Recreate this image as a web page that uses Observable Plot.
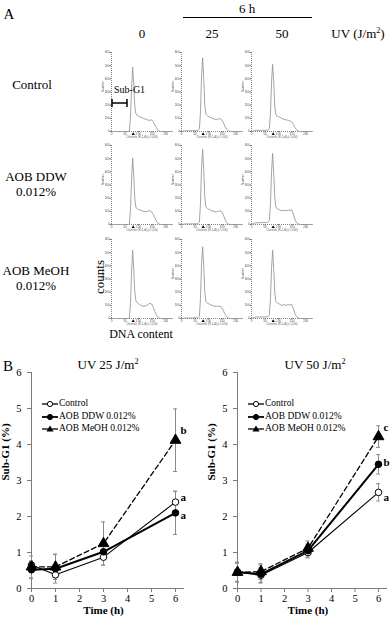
<!DOCTYPE html>
<html><head><meta charset="utf-8">
<script src="https://cdn.jsdelivr.net/npm/d3@7"></script>
<script src="https://cdn.jsdelivr.net/npm/@observablehq/plot@0.6"></script>
<style>
body{margin:0;background:#fff;}
#root{position:relative;width:392px;height:620px;overflow:hidden;font-family:"Liberation Serif","Times New Roman",serif;color:#000;background:#fff;}
.abs{position:absolute;white-space:nowrap;line-height:1;}
.abs sup{font-size:0.62em;line-height:0;vertical-align:0.55em;}
svg{overflow:visible;}
.hist{filter:grayscale(1);}
</style></head><body><div id="root"></div>
<script>
// ---------------- DATA ----------------
// Panel A: flow-cytometry DNA histograms (channel grid + estimated counts)
const channels = [0,10,20,30,40,50,60,66,70,74,78,82,86,90,96,104,112,120,128,136,142,148,154,160,166,172,180,200,225];
const histControl0  = [0,0,0,0,0,0,0,2,110,330,490,360,190,135,120,112,105,98,92,85,86,88,72,50,28,10,0,0,0];
const histControl25 = [0,4,6,5,7,6,8,20,150,420,560,400,200,130,118,110,102,95,92,95,98,90,70,40,18,5,0,0,0];
const histControl50 = [0,6,9,8,10,9,10,25,140,380,510,370,190,125,115,108,100,92,88,85,80,74,55,32,12,3,0,0,0];
const histDDW0      = [0,0,0,0,0,0,0,3,115,340,505,370,195,130,118,110,104,100,98,102,104,96,78,50,24,8,0,0,0];
const histDDW25     = [0,3,5,4,6,5,7,18,160,430,570,410,205,135,120,112,104,98,96,100,104,100,75,42,16,4,0,0,0];
const histDDW50     = [0,10,14,13,15,14,16,30,160,400,540,390,200,130,120,110,105,108,104,110,106,112,80,40,14,4,0,0,0];
const histMeOH0     = [0,0,0,0,0,0,0,3,120,350,520,380,200,135,118,105,96,92,98,108,115,110,85,52,25,8,0,0,0];
const histMeOH25    = [0,3,4,3,5,4,6,16,150,410,545,395,200,128,115,108,100,95,92,94,92,85,62,36,14,4,0,0,0];
const histMeOH50    = [0,8,12,11,13,12,14,28,150,380,520,380,195,128,118,108,100,105,100,106,102,108,76,38,14,4,0,0,0];
const g1Marker = [80];
const histXTicks = [0,50,100,150,200];
const histYTicks = [0,100,200,300,400,500,600];
const rowLabels = ["Control", "AOB DDW<br>0.012%", "AOB MeOH<br>0.012%"];
const colLabels = ["0", "25", "50"];

// Panel B: Sub-G1 (%) over time
const timesH = [0,1,3,6];
const seriesNames = ["Control", "AOB DDW 0.012%", "AOB MeOH 0.012%"];
const uv25Control   = [0.65,0.38,0.87,2.40];
const uv25ControlSE = [0.10,0.08,0.22,0.30];
const uv25DDW       = [0.52,0.55,1.02,2.10];
const uv25DDWSE     = [0.25,0.40,0.20,0.60];
const uv25MeOH      = [0.60,0.60,1.25,4.12];
const uv25MeOHSE    = [0.30,0.35,0.60,0.87];
const uv25Letters   = ["a","a","b"];
const uv25LetterAt  = [2.53,2.03,4.39];
const uv50Control   = [0.45,0.37,1.00,2.67];
const uv50ControlSE = [0.27,0.20,0.15,0.24];
const uv50DDW       = [0.46,0.40,1.05,3.45];
const uv50DDWSE     = [0.27,0.25,0.18,0.27];
const uv50MeOH      = [0.45,0.47,1.12,4.22];
const uv50MeOHSE    = [0.25,0.22,0.20,0.30];
const uv50Letters   = ["a","b","c"];
const uv50LetterAt  = [2.53,3.50,4.47];
const bTicks = [0,1,2,3,4,5,6];

// ---------------- LAYOUT HELPERS ----------------
const root = document.getElementById("root");
function addText(html, x, y, size, o = {}) {
  const d = document.createElement("div");
  d.className = "abs";
  d.innerHTML = html;
  d.style.left = x + "px"; d.style.top = y + "px"; d.style.fontSize = size + "px";
  if (o.lh) d.style.lineHeight = o.lh + "px";
  d.style.textAlign = "center";
  d.style.transform = `translate(${o.ax ?? -50}%, -50%)` + (o.rot ? ` rotate(${o.rot}deg)` : "");
  if (o.bold) d.style.fontWeight = "bold";
  root.appendChild(d);
  return d;
}
function place(node, x, y) {
  node.style.position = "absolute"; node.style.left = x + "px"; node.style.top = y + "px";
  root.appendChild(node);
}

// ---------------- PANEL A ----------------
addText("A", 9, 14, 15, {});
addText("6 h", 247, 8, 13);
{
  const ln = document.createElement("div");
  ln.style.cssText = "position:absolute;left:183px;top:17px;width:129px;height:0;border-top:1px solid #000;";
  root.appendChild(ln);
}
const colAxis = [111, 181, 251];
const rowTop = [52, 145, 239];
colLabels.forEach((t, i) => addText(t, colAxis[i] + 31, 33, 13));
addText("UV (J/m<sup>2</sup>)", 358, 33, 13);
const rowY = [84, 184, 278];
rowLabels.forEach((t, i) => addText(t, i === 0 ? 32 : 36, rowY[i], 13, {lh: 15}));

const hists = [
  [histControl0, histControl25, histControl50],
  [histDDW0, histDDW25, histDDW50],
  [histMeOH0, histMeOH25, histMeOH50]
];
function histogram(counts) {
  const data = channels.map((c, i) => ({c, n: counts[i]}));
  return Plot.plot({
    width: 77, height: 95, marginLeft: 12, marginRight: 4, marginTop: 4, marginBottom: 12,
    className: "hist",
    style: {fontFamily: "Liberation Sans, Arial, sans-serif", fontSize: "3px", background: "transparent", color: "#555"},
    x: {domain: [0, 225]},
    y: {domain: [0, 600]},
    marks: [
      Plot.ruleX([0], {stroke: "#666", strokeDasharray: "1,1", strokeWidth: 0.8}),
      Plot.ruleY([0], {stroke: "#666", strokeDasharray: "1,1", strokeWidth: 0.8}),
      Plot.axisX({ticks: histXTicks, tickFormat: d => d, tickSize: 1.2, tickPadding: 0.6, stroke: "#666", fill: "#555", fontSize: 3, label: null}),
      Plot.axisY({ticks: histYTicks, tickFormat: d => d, tickSize: 1.2, tickPadding: 0.6, stroke: "#666", fill: "#555", fontSize: 3, label: null}),
      Plot.text(["Channels (FL2-A) (x 1,000)"], {frameAnchor: "bottom", dy: 6, fontSize: 2.6, fill: "#666"}),
      Plot.text(["Number"], {frameAnchor: "left", rotate: -90, dx: -8, fontSize: 3, fill: "#666"}),
      Plot.lineY(data, {x: "c", y: "n", stroke: "#9a9a9a", strokeWidth: 0.9}),
      Plot.dot(g1Marker, {x: d => d, y: () => 0, symbol: "triangle", r: 1.2, fill: "#000", dy: 2.5})
    ]
  });
}
hists.forEach((row, r) => row.forEach((counts, c) => {
  const svg = histogram(counts);
  svg.classList.add("hist");
  place(svg, colAxis[c] - 12, rowTop[r] - 4);
}));

// Sub-G1 bracket annotation
addText("Sub-G1", 114, 90, 10, {ax: 0});
{
  const s = d3.create("svg").attr("width", 20).attr("height", 12);
  s.append("line").attr("x1", 1).attr("x2", 16).attr("y1", 5).attr("y2", 5).attr("stroke", "#000").attr("stroke-width", 1.5);
  s.append("line").attr("x1", 1).attr("x2", 1).attr("y1", 1).attr("y2", 9).attr("stroke", "#000").attr("stroke-width", 1.5);
  s.append("line").attr("x1", 16).attr("x2", 16).attr("y1", 1).attr("y2", 9).attr("stroke", "#000").attr("stroke-width", 1.5);
  place(s.node(), 111, 98);
}
addText("counts", 99, 277, 13, {rot: -90});
addText("DNA content", 141, 334, 12);

// ---------------- PANEL B ----------------
addText("B", 8, 366, 15);
addText("UV 25 J/m<sup>2</sup>", 108, 364, 13);
addText("UV 50 J/m<sup>2</sup>", 315, 364, 13);

const seriesStyle = [
  {w: 1.1, dash: null, symbol: "circle", fill: "white", r: 3.3},
  {w: 2.0, dash: null, symbol: "circle", fill: "black", r: 3.3},
  {w: 1.3, dash: "5,3", symbol: "triangle", fill: "black", r: 4}
];

function subG1Chart(means, ses, letters, letterAt, mLeft, mRight) {
  const rows = [];
  means.forEach((m, s) => m.forEach((v, i) => rows.push({
    series: seriesNames[s], s, t: timesH[i], y: v, lo: v - ses[s][i], hi: v + ses[s][i]
  })));
  const lab = letters.map((l, i) => ({l, y: letterAt[i]}));
  const marks = [
    Plot.ruleX([0], {stroke: "#7a7a7a", strokeWidth: 1}),
    Plot.ruleY([0], {stroke: "#7a7a7a", strokeWidth: 1, insetRight: -9}),
    Plot.axisX({ticks: bTicks, tickFormat: d => d, tickSize: 4, tickPadding: 2, stroke: "#7a7a7a", fill: "#000", fontSize: 10.5, label: null}),
    Plot.axisY({ticks: bTicks, tickFormat: d => d, tickSize: 4, tickPadding: 6, stroke: "#7a7a7a", fill: "#000", fontSize: 10.5, label: null}),
    Plot.text(["Time (h)"], {frameAnchor: "bottom", dy: 25, fontWeight: "bold", fontSize: 11}),
    Plot.text(["Sub-G1 (%)"], {frameAnchor: "left", rotate: -90, dx: -26, fontWeight: "bold", fontSize: 11}),
    Plot.ruleX(rows, {x: "t", y1: "lo", y2: "hi", stroke: "#8a8a8a", strokeWidth: 1}),
    Plot.ruleY(rows, {y: "lo", x1: "t", x2: "t", insetLeft: -2, insetRight: -2, stroke: "#8a8a8a", strokeWidth: 1}),
    Plot.ruleY(rows, {y: "hi", x1: "t", x2: "t", insetLeft: -2, insetRight: -2, stroke: "#8a8a8a", strokeWidth: 1})
  ];
  seriesStyle.forEach((st, s) => {
    marks.push(Plot.line(rows.filter(d => d.s === s), {x: "t", y: "y", stroke: "#000", strokeWidth: st.w, strokeDasharray: st.dash}));
  });
  seriesStyle.forEach((st, s) => {
    marks.push(Plot.dot(rows.filter(d => d.s === s), {x: "t", y: "y", symbol: st.symbol, r: st.r, fill: st.fill, stroke: "#000", strokeWidth: 1}));
  });
  marks.push(Plot.text(lab, {x: () => 6, y: "y", text: "l", dx: 5, textAnchor: "start", fontWeight: "bold", fontSize: 11}));
  return Plot.plot({
    width: 196, height: 260, marginLeft: mLeft, marginRight: mRight, marginTop: 12, marginBottom: 32,
    style: {fontFamily: "Liberation Serif, Times New Roman, serif", fontSize: "11px", background: "transparent", color: "#000"},
    x: {domain: [0, 6]},
    y: {domain: [0, 6]},
    marks
  });
}

place(subG1Chart([uv25Control, uv25DDW, uv25MeOH], [uv25ControlSE, uv25DDWSE, uv25MeOHSE], uv25Letters, uv25LetterAt, 31, 21), 0, 360);
place(subG1Chart([uv50Control, uv50DDW, uv50MeOH], [uv50ControlSE, uv50DDWSE, uv50MeOHSE], uv50Letters, uv50LetterAt, 41, 14), 196, 360);

// Legends
function legend(x0, y0) {
  const ys = [0, 12.5, 25];
  seriesNames.forEach((name, s) => {
    const st = seriesStyle[s];
    const sv = d3.create("svg").attr("width", 16).attr("height", 10);
    sv.append("line").attr("x1", 0).attr("x2", 16).attr("y1", 5).attr("y2", 5)
      .attr("stroke", "#000").attr("stroke-width", Math.max(1.3, st.w * 0.9));
    if (st.symbol === "circle") {
      sv.append("circle").attr("cx", 8).attr("cy", 5).attr("r", 2.6).attr("fill", st.fill).attr("stroke", "#000").attr("stroke-width", 1);
    } else {
      sv.append("path").attr("d", d3.symbol(d3.symbolTriangle, 22)()).attr("transform", "translate(8,5.5)").attr("fill", "#000");
    }
    place(sv.node(), x0, y0 + ys[s] - 5);
    addText(name, x0 + 17, y0 + ys[s], 9.5, {ax: 0});
  });
}
legend(42, 404);
legend(248, 404);
</script>
</body></html>
